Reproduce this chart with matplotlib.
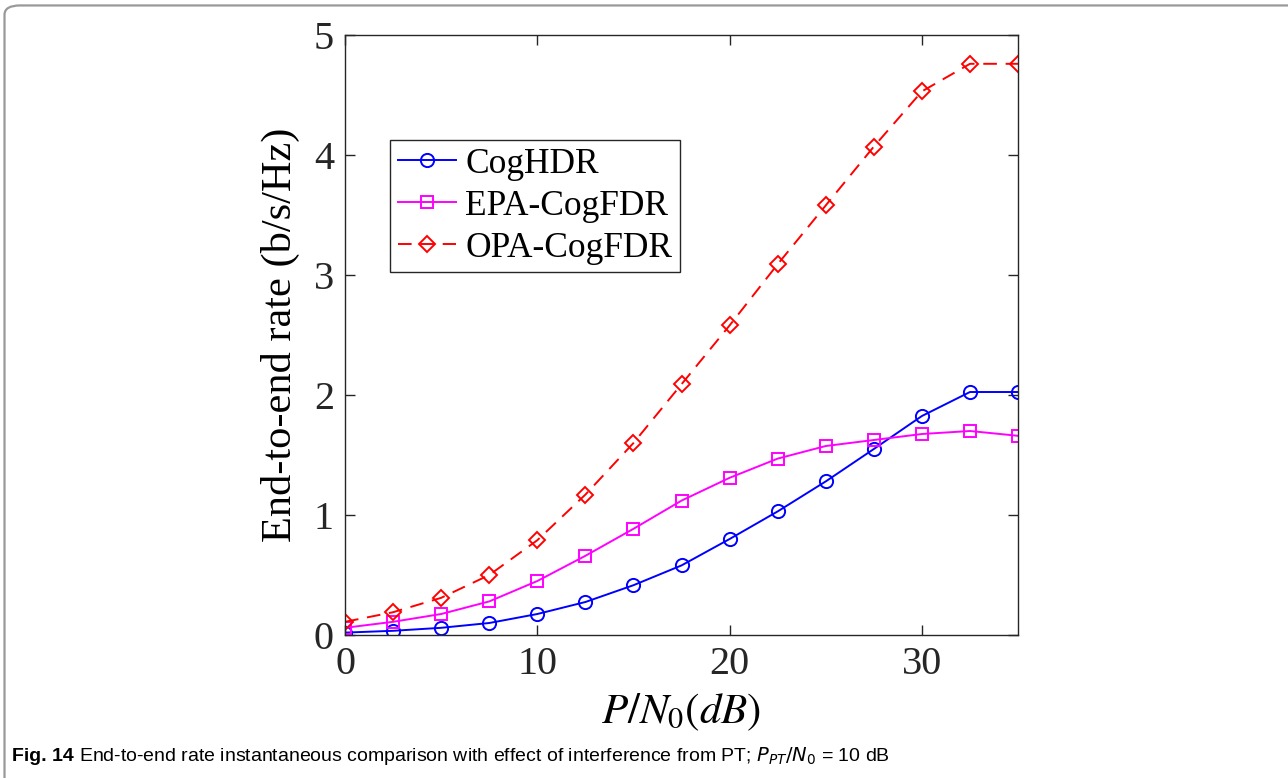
import matplotlib
matplotlib.use("Agg")
import matplotlib.pyplot as plt
from matplotlib.patches import FancyBboxPatch

# donnees
snr_db = [0, 2.5, 5, 7.5, 10, 12.5, 15, 17.5, 20, 22.5, 25, 27.5, 30, 32.5, 35]
rate_coghdr = [0.02, 0.035, 0.06, 0.10, 0.175, 0.275, 0.415, 0.58, 0.80, 1.03, 1.28, 1.55, 1.825, 2.025, 2.025]
rate_epa = [0.06, 0.11, 0.175, 0.28, 0.45, 0.66, 0.885, 1.12, 1.31, 1.47, 1.575, 1.625, 1.675, 1.70, 1.66]
rate_opa = [0.11, 0.19, 0.31, 0.50, 0.79, 1.17, 1.60, 2.09, 2.58, 3.09, 3.58, 4.07, 4.53, 4.76, 4.76]
noms = ["CogHDR", "EPA-CogFDR", "OPA-CogFDR"]
xticks = [0, 10, 20, 30]
yticks = [0, 1, 2, 3, 4, 5]

plt.rcParams["font.family"] = "Liberation Serif"
plt.rcParams["mathtext.fontset"] = "stix"

fig = plt.figure(figsize=(12.88, 7.78), dpi=100)

# cadre arrondi de la figure (coupe a droite et en bas)
cadre = FancyBboxPatch((0.0035, -0.05), 1.05, 1.043, boxstyle="round,pad=0,rounding_size=0.012",
                       transform=fig.transFigure, fill=False, edgecolor="#999999", linewidth=1.6)
fig.patches.append(cadre)

ax = fig.add_axes([0.2679, 0.1838, 0.5225, 0.7712])

ax.plot(snr_db, rate_coghdr, color="blue", linestyle="-", marker="o", markersize=9.5,
        markerfacecolor="none", markeredgewidth=1.4, linewidth=1.4, label=noms[0])
ax.plot(snr_db, rate_epa, color="magenta", linestyle="-", marker="s", markersize=8,
        markerfacecolor="none", markeredgewidth=1.4, linewidth=1.4, label=noms[1])
ax.plot(snr_db, rate_opa, color="red", linestyle=(0, (7, 4.5)), marker="D", markersize=8,
        markerfacecolor="none", markeredgewidth=1.4, linewidth=1.4, label=noms[2])

ax.set_xlim(0, 35)
ax.set_ylim(0, 5)
ax.set_xticks(xticks)
ax.set_yticks(yticks)
ax.tick_params(direction="in", length=7, width=1, colors="#262626", labelsize=29,
               top=True, right=True, pad=8)
for s in ax.spines.values():
    s.set_color("#262626")
    s.set_linewidth(1.0)

ax.set_xlabel(r"$P/N_0(dB)$", fontsize=31, labelpad=6)
ax.set_ylabel("End-to-end rate (b/s/Hz)", fontsize=30.5, labelpad=10)

leg = ax.legend(loc="upper left", bbox_to_anchor=(0.067, 0.825), borderaxespad=0,
                fontsize=25.5, fancybox=False, edgecolor="#262626", handlelength=1.65,
                handletextpad=0.25, labelspacing=0.25, borderpad=0.22, framealpha=1)
leg.get_frame().set_linewidth(1.0)

# legende de la figure : "Fig. 14" en gras puis le texte
t1 = fig.text(0.0095, 0.0215, "Fig. 14", family="Liberation Sans", fontweight="bold",
              fontsize=14, va="baseline")
fig.canvas.draw()
bb = t1.get_window_extent(fig.canvas.get_renderer())
x_suite = (bb.x1 + 5) / fig.bbox.width
fig.text(x_suite, 0.0215, r"End-to-end rate instantaneous comparison with effect of interference from PT; $P_{PT}/N_0$ = 10 dB",
         family="Liberation Sans", fontsize=14, va="baseline", math_fontfamily="dejavusans")

fig.savefig("out.png", dpi=100)
